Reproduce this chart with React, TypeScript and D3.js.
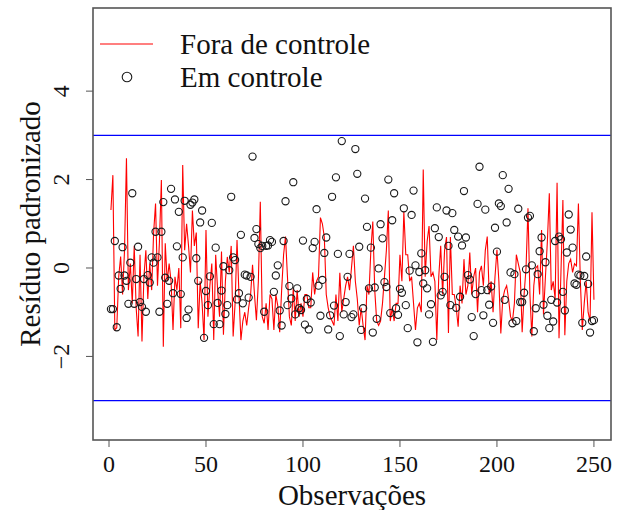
import React from "react";
import * as d3 from "d3";

const foraControle = [
  1.31, 2.10, -1.40, -1.35, -0.20, 0.26, -0.60, 0.40, 2.48, -0.50,
  0.10, -0.80, 0.50, -0.90, -1.55, 0.30, -1.66, -0.20, 0.40, -0.70,
  0.10, -0.50, 0.80, 1.46, -0.40, 0.60, 1.99, -1.78, 0.56, -0.30,
  0.10, -0.30, -1.40, -0.20, -0.50, 0.00, -1.36, 2.33, 0.40, 1.00,
  0.50, -0.10, 1.30, 0.50, 0.80, -1.36, -0.30, -0.80, -1.63, 0.86,
  -1.10, -0.40, 0.10, -1.63, 0.30, -0.50, -1.10, 0.37, -1.51, -0.30,
  0.25, -0.10, 0.50, -1.55, -0.80, 0.63, -0.60, -1.63, -1.20, -1.00,
  -1.30, -0.90, -0.60, 0.07, -0.60, -1.18, -0.30, 1.50, -1.10, -1.25,
  -0.80, -1.40, -0.60, -0.70, -1.40, -0.60, -0.85, -1.45, -0.50, 0.30,
  0.71, -0.20, -1.10, -1.30, -0.46, -1.20, -0.50, -1.10, -0.80, -1.10,
  -0.60, -0.60, -0.90, -0.90, -0.10, -0.60, -0.30, -0.20, 1.14, 1.00,
  0.70, -0.60, -0.90, -1.10, -1.20, -1.30, -0.60, -1.20, -0.11, -1.00,
  -0.70, -0.40, -0.20, -0.50, 0.00, 0.50, -0.30, -0.70, -1.30, -0.90,
  -1.30, -1.63, -0.40, -0.60, 0.40, 1.05, -0.50, -1.20, -1.30, -1.20,
  -0.80, -0.20, 0.40, 1.30, -1.20, -0.90, -1.20, -0.80, -0.80, 0.30,
  -0.30, 1.27, 0.30, 0.30, -0.30, -0.20, -0.80, -1.40, -0.90, -0.80,
  -1.00, 2.23, -0.20, 0.60, 0.95, -0.20, -0.10, -0.30, -1.63, -0.20,
  0.50, -0.60, 0.40, 0.70, -1.47, 0.70, -0.60, -0.60, -0.90, -1.33,
  -0.40, -0.80, 0.20, -0.60, -0.40, 0.35, -0.60, -0.20, 0.00, -1.00,
  -0.10, 0.05, -0.40, 0.40, 0.71, -0.60, -0.30, -1.00, -0.20, 0.41,
  -0.30, -1.48, -0.70, -0.50, -0.40, -0.70, -1.10, -1.20, -0.80, 0.30,
  0.10, -0.10, -1.45, -0.60, 0.00, 1.35, -0.60, -1.55, -0.40, 0.00,
  0.05, -0.60, 0.86, -1.05, -0.20, 0.60, 1.69, -0.50, -0.30, -0.70,
  1.93, -1.59, -0.10, 1.54, -1.52, -0.30, 0.10, 0.20, -0.10, 0.10,
  0.05, 1.46, -0.30, -1.40, -0.80, -0.30, -1.00, -1.20, 1.26, -0.72,
];

const emControle = [
  -0.93, -0.93, 0.61, -1.34, -0.17, -0.47, 0.47, -0.17, -0.29, -0.81,
  0.12, 1.69, -0.81, -0.25, 0.48, -0.77, -0.88, -0.25, -0.99, -0.16,
  -0.33, 0.24, 0.12, 0.82, 0.24, -0.99, 0.82, 1.49, -0.22, -0.81,
  -0.29, 1.79, -0.57, 1.55, 0.49, 1.27, -0.59, 0.24, 1.52, -1.13,
  -0.94, 1.43, 1.48, 1.55, 0.22, -0.29, 1.03, 1.30, -1.58, -0.52,
  -0.84, -0.19, 1.02, -1.27, 0.46, -0.79, -1.27, -0.51, 0.04, -1.04,
  -0.84, -0.05, 1.61, 0.24, 0.18, -0.71, -0.57, 0.75, -0.80, -0.15,
  -0.17, -0.67, -0.20, 2.52, 0.68, 0.88, 0.54, 0.45, 0.50, -0.99,
  0.50, 0.51, 0.63, 0.59, -0.54, -0.17, 0.06, -0.96, -1.30, 0.61,
  1.51, -0.84, -0.41, -0.69, 1.94, -1.05, -0.46, -0.91, -0.95, 0.62,
  -1.28, -0.70, -1.39, -0.78, 0.45, 0.59, 1.33, -0.40, -1.08, -0.27,
  0.34, 0.69, -1.39, -1.07, 1.61, -0.85, 2.05, 0.32, -1.54, 2.87,
  -1.05, -0.77, -0.20, 0.32, -1.11, -1.05, 2.69, 2.13, 0.48, -1.40,
  -0.91, 1.57, 0.93, -0.46, 0.46, -1.46, -0.44, -1.15, -0.01, 0.99,
  0.67, -0.32, -0.43, 2.00, -1.02, 1.08, 1.69, -0.91, -1.06, -0.47,
  -0.56, 1.35, -0.84, -1.36, -0.06, 1.20, 1.75, 0.06, -1.68, -0.09,
  0.33, -0.35, -0.05, -0.46, -1.05, -0.82, -1.67, 0.90, 1.37, 0.70,
  -0.62, -0.54, -0.20, 1.30, 0.50, -0.84, 1.24, 0.86, -0.90, 0.71,
  -0.65, 0.51, 1.74, 0.69, -0.16, -0.26, -1.11, -1.54, -0.59, 1.45,
  2.29, -0.50, -1.07, 1.32, -0.50, -0.83, -0.42, -1.24, 0.91, 0.37,
  1.46, 1.40, 2.10, -0.72, 1.03, 1.79, -0.10, -1.25, -0.14, -1.20,
  1.34, -0.77, -0.77, -0.56, -0.03, 1.14, 1.18, 0.06, -1.43, -0.91,
  -0.14, 0.38, 0.69, -0.83, 0.13, -1.08, -1.36, -0.72, -1.21, 0.61,
  -0.78, 0.71, 0.65, -0.54, -0.96, 0.35, 1.21, 0.87, 0.46, -0.35,
  -0.38, -0.15, -0.17, -1.24, -0.18, 0.26, -0.36, -1.46, -1.20, -1.18,
];

const xTicks = [0, 50, 100, 150, 200, 250];
const yTicks = [-2, 0, 2, 4];
const limites = [-3, 3];
const legenda = ["Fora de controle", "Em controle"];

const W = 623;
const H = 510;
const plot = { left: 93, right: 611, top: 8, bottom: 440 };
const font = "'Liberation Serif', 'DejaVu Serif', serif";

const App = () => {
  const x = d3.scaleLinear().domain([-8.25, 258.8]).range([plot.left, plot.right]);
  const y = d3.scaleLinear().domain([-3.89, 5.88]).range([plot.bottom, plot.top]);

  const linha = d3.line<number>()
    .x((d, i) => x(i + 1))
    .y(d => y(d));

  const fmt = (v: number) => (v < 0 ? "\u2212" + Math.abs(v) : String(v));

  return (
    <svg width={W} height={H} style={{ position: "absolute", left: 0, top: 0, background: "#fff" }}
      fontFamily={font}>
      {limites.map(v => (
        <line key={v} x1={plot.left} x2={plot.right} y1={y(v)} y2={y(v)} stroke="#0000ff" strokeWidth={1.2} />
      ))}

      <path d={linha(foraControle) || ""} fill="none" stroke="#ff0000" strokeWidth={1.1} />

      {emControle.map((v, i) => (
        <circle key={i} cx={x(i + 1)} cy={y(v)} r={3.6} fill="none" stroke="#1a1a1a" strokeWidth={1.1} />
      ))}

      <rect x={plot.left} y={plot.top} width={plot.right - plot.left} height={plot.bottom - plot.top}
        fill="none" stroke="#555" strokeWidth={1.6} />

      {xTicks.map(t => (
        <g key={t} transform={`translate(${x(t)},${plot.bottom})`}>
          <line y2={7} stroke="#555" />
          <text y={32} textAnchor="middle" fontSize={24} fill="#111">{t}</text>
        </g>
      ))}
      {yTicks.map(t => (
        <g key={t} transform={`translate(${plot.left},${y(t)})`}>
          <line x2={-7} stroke="#555" />
          <text transform="translate(-24,0) rotate(-90)" textAnchor="middle" fontSize={24} fill="#111">{fmt(t)}</text>
        </g>
      ))}

      <text x={(plot.left + plot.right) / 2} y={505} textAnchor="middle" fontSize={29} fill="#111">Observações</text>
      <text transform={`translate(40,${(plot.top + plot.bottom) / 2}) rotate(-90)`} textAnchor="middle"
        fontSize={29} fill="#111">Resíduo padronizado</text>

      <line x1={100} x2={153} y1={44} y2={44} stroke="#ff0000" strokeWidth={1.1} />
      <text x={180} y={54} fontSize={29} fill="#111">{legenda[0]}</text>
      <circle cx={127} cy={77} r={4.8} fill="none" stroke="#1a1a1a" strokeWidth={1.1} />
      <text x={180} y={87} fontSize={29} fill="#111">{legenda[1]}</text>
    </svg>
  );
};

export default App;
